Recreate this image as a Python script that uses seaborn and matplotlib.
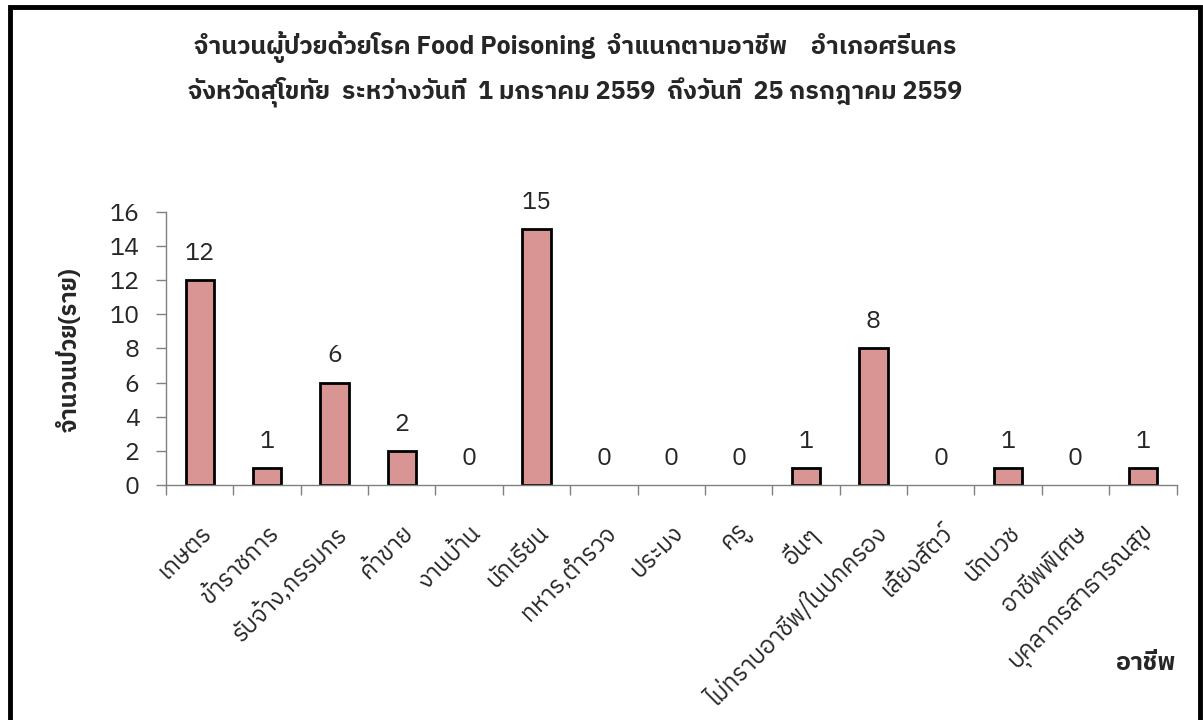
import numpy as np
import matplotlib
matplotlib.use('Agg')
import matplotlib.pyplot as plt
import matplotlib.font_manager as fm
from matplotlib.ft2font import FT2Font
from matplotlib.patches import Rectangle
import seaborn as sns

# --- data ---
occupations = ['เกษตร', 'ข้าราชการ', 'รับจ้าง,กรรมกร', 'ค้าขาย', 'งานบ้าน',
               'นักเรียน', 'ทหาร,ตำรวจ', 'ประมง', 'ครู', 'อื่นๆ',
               'ไม่ทราบอาชีพ/ในปกครอง', 'เลี้ยงสัตว์', 'นักบวช', 'อาชีพพิเศษ',
               'บุคลากรสาธารณสุข']
patients = [12, 1, 6, 2, 0, 15, 0, 0, 0, 1, 8, 0, 1, 0, 1]
yticks = [0, 2, 4, 6, 8, 10, 12, 14, 16]

title1 = 'จำนวนผู้ป่วยด้วยโรค Food Poisoning  จำแนกตามอาชีพ    อำเภอศรีนคร'
title2 = 'จังหวัดสุโขทัย  ระหว่างวันที่  1 มกราคม 2559  ถึงวันที่  25 กรกฎาคม 2559'
ylabel = 'จำนวนป่วย(ราย)'
xlabel = 'อาชีพ'


# find a font that has thai glyphs
def find_thai_font():
    found = []
    for f in fm.fontManager.ttflist:
        try:
            cmap = FT2Font(f.fname).get_charmap()
        except Exception:
            continue
        if 0x0E01 in cmap and 0x0E33 in cmap:
            found.append(f.name)
    if not found:
        return None
    for key in ['Thai', 'Loma', 'Garuda', 'Sarabun', 'Tlwg', 'Norasi']:
        for n in found:
            if key in n:
                return n
    return found[0]


sns.set_style('white')
thai = find_thai_font()
fams = [thai, 'DejaVu Sans'] if thai else ['DejaVu Sans']
plt.rcParams['font.family'] = fams

fig = plt.figure(figsize=(12.03, 7.2), dpi=100)
ax = fig.add_axes([0.138, 0.326, 0.840, 0.380])

sns.barplot(x=occupations, y=patients, color='#D99594', edgecolor='black',
            linewidth=2, width=0.42, saturation=1, ax=ax)
# no outline for empty bars
for p in ax.patches:
    if p.get_height() == 0:
        p.set_linewidth(0)
ax.bar_label(ax.containers[0], padding=11, fontsize=18)

ax.set_xlim(-0.5, len(occupations) - 0.5)
ax.set_ylim(0, 16)
ax.set_yticks(yticks)
ax.tick_params(axis='y', labelsize=18, length=7, width=1, color='#808080',
               direction='out', left=True, pad=12)
# ticks between categories, labels at centers
ax.set_xticks(np.arange(-0.5, len(occupations), 1))
ax.set_xticklabels([])
ax.set_xticks(np.arange(len(occupations)), minor=True)
ax.set_xticklabels(occupations, minor=True, rotation=45, ha='right',
                   rotation_mode='anchor', fontsize=17)
ax.tick_params(axis='x', which='major', length=7, width=1, color='#808080',
               direction='out', bottom=True)
ax.tick_params(axis='x', which='minor', length=0, pad=26)
ax.set_xlabel('')
ax.set_ylabel('')

for s in ['top', 'right']:
    ax.spines[s].set_visible(False)
for s in ['left', 'bottom']:
    ax.spines[s].set_color('#808080')
    ax.spines[s].set_linewidth(1)

fig.text(0.478, 0.935, title1, ha='center', va='center', fontsize=18,
         fontweight='bold')
fig.text(0.478, 0.872, title2, ha='center', va='center', fontsize=18,
         fontweight='bold')
fig.text(0.058, 0.514, ylabel, ha='center', va='center', rotation=90,
         fontsize=17, fontweight='bold')
fig.text(0.977, 0.079, xlabel, ha='right', va='center', fontsize=18,
         fontweight='bold')

# outer frame (runs off the bottom like the original)
fig.patches.append(Rectangle((0.0085, -0.05), 0.989, 1.04, transform=fig.transFigure,
                             fill=False, edgecolor='black', linewidth=3.5,
                             clip_on=False))

fig.savefig('out.png', dpi=100)
